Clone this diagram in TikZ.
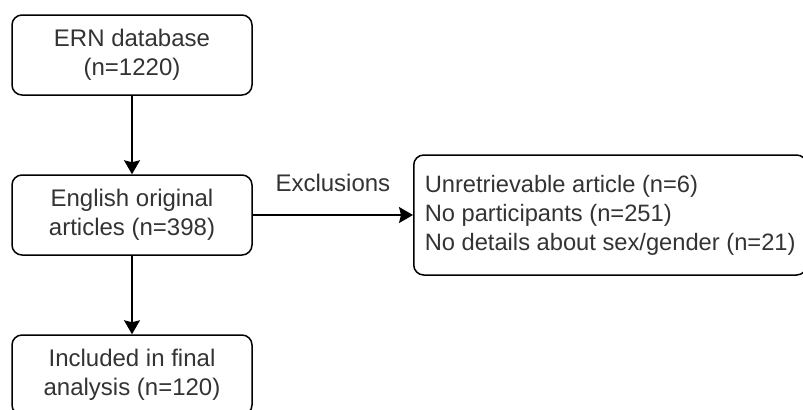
\documentclass[tikz,border=0pt]{standalone}
\usepackage{fontspec}
\setmainfont{Liberation Sans}
\usepackage{tikz}
\usetikzlibrary{arrows.meta,positioning}
\definecolor{labelgray}{RGB}{51,51,51}

\begin{document}
\begin{tikzpicture}[x=0.5pt,y=-0.5pt,
  stagebox/.style={draw=black,line width=0.75pt,rounded corners=5pt,
    text=labelgray,font=\fontsize{12}{14.5}\selectfont,align=center,
    minimum width=120pt,minimum height=40pt,inner sep=0pt},
  flowarrow/.style={-{Stealth[length=7pt,width=8pt,inset=1pt]},line width=0.75pt}]
        \useasboundingbox (0,0) rectangle (803,409);
        \clip (0,0) rectangle (803,409);
        % flow boxes
        \node[stagebox] (ern) at (132,55) {ERN database\\(n=1220)};
        \node[stagebox] (eng) at (132,215) {English original\\articles (n=398)};
        \node[stagebox] (incl) at (132,375) {Included in final\\analysis (n=120)};
        \node[stagebox,align=left,anchor=west,minimum width=0pt,minimum height=60pt,
          inner xsep=5.5pt,font=\fontsize{11.85}{14.5}\selectfont] (excl) at (413,215)
          {Unretrievable article (n=6)\\No participants (n=251)\\No details about sex/gender (n=21)};
        % connectors
        \draw[flowarrow] (ern) -- (eng);
        \draw[flowarrow] (eng) -- (incl);
        \draw[flowarrow] (eng) -- node[above=11.5pt,inner sep=0pt,text=labelgray,
          font=\fontsize{12}{14.5}\selectfont] (exlabel) {Exclusions} (excl);
      \end{tikzpicture}
\end{document}
